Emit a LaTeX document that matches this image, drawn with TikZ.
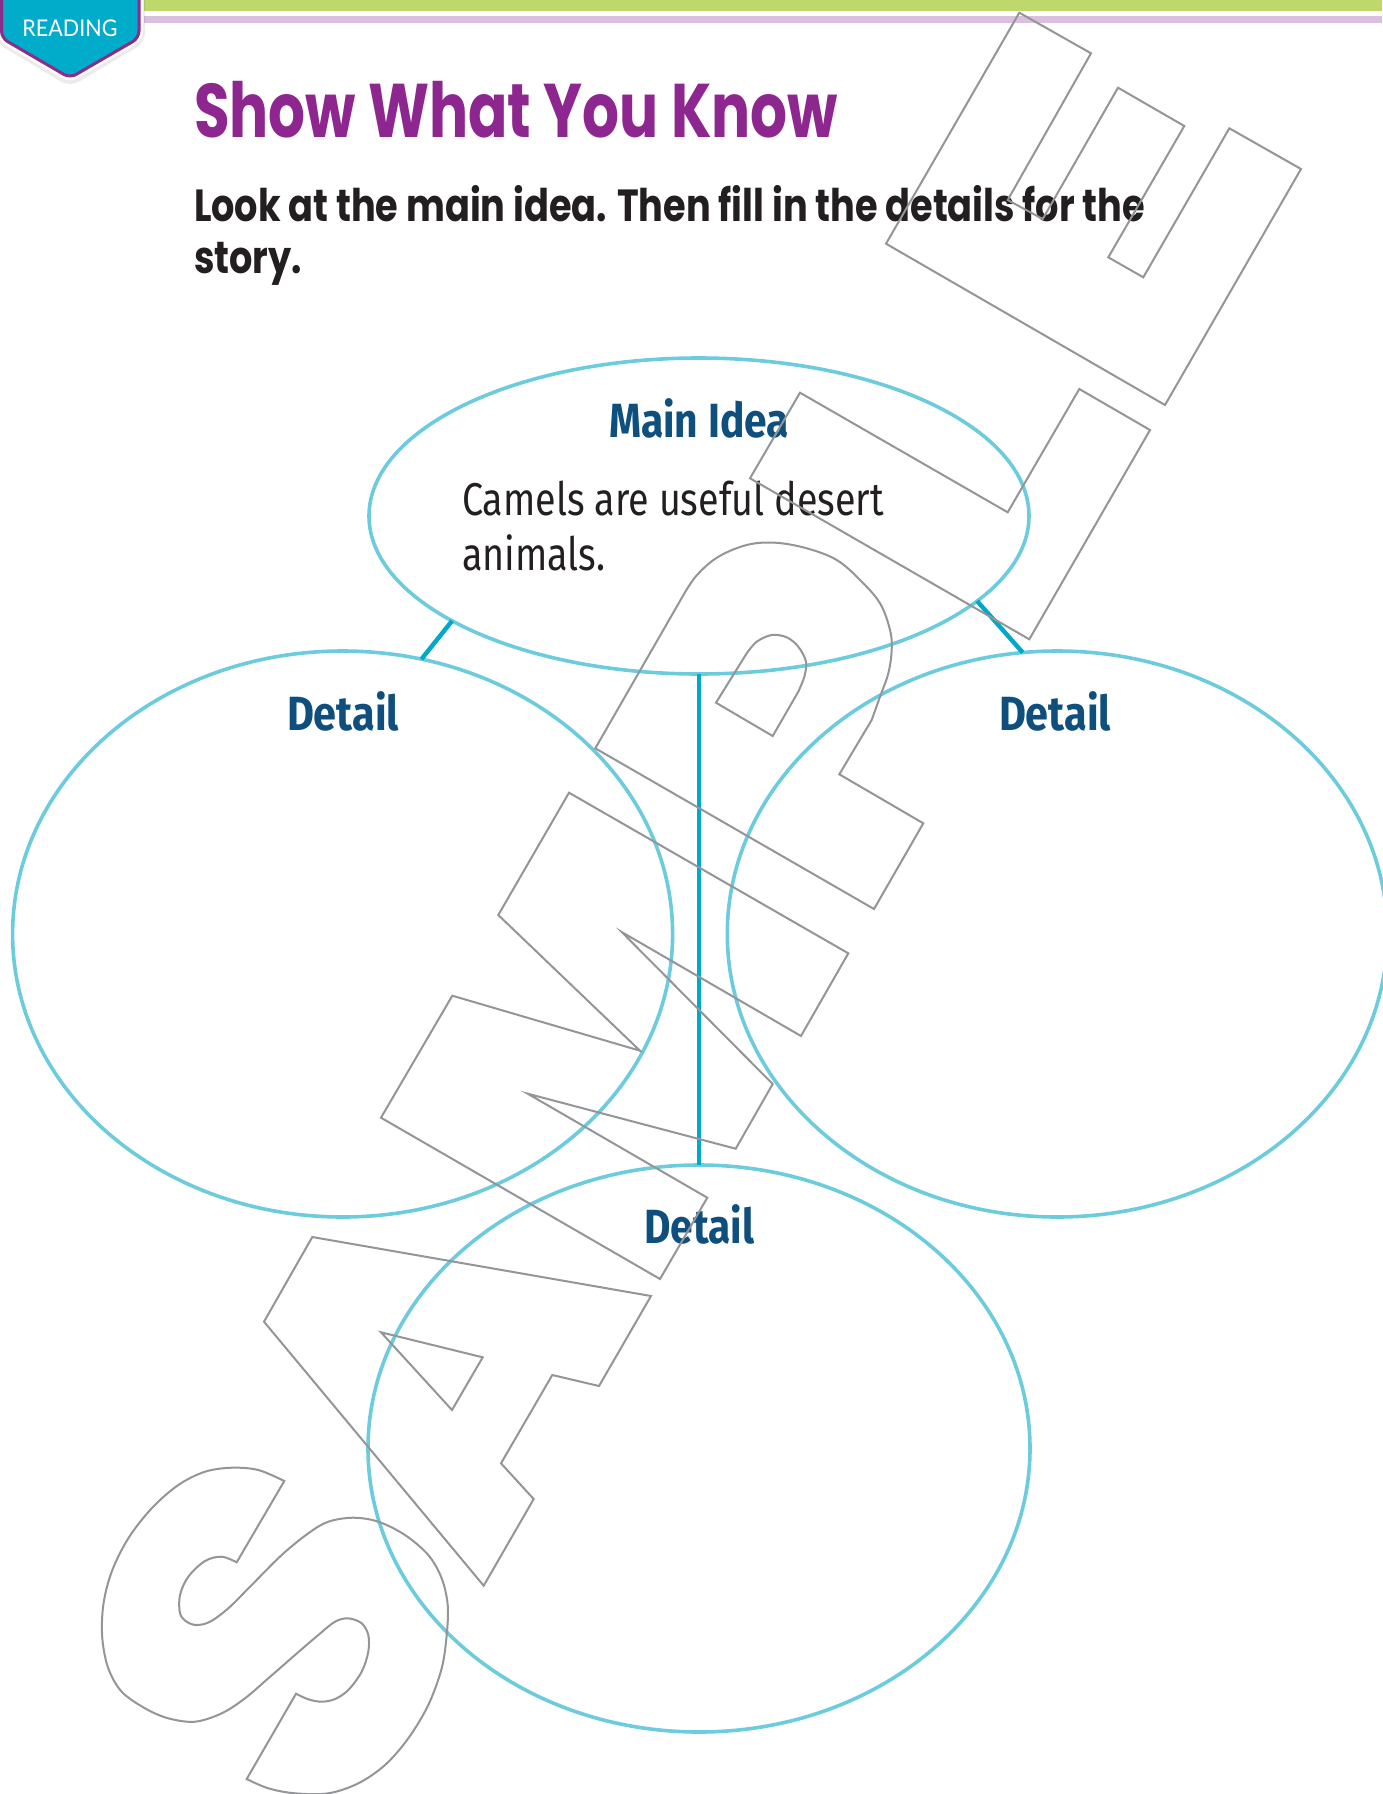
\documentclass[tikz,border=0pt]{standalone}
\usepackage{fontspec}
\usepackage{graphicx}
\usetikzlibrary{shapes.geometric}
\setmainfont{Fira Sans}
\newfontfamily\titlefont{Poppins}
\newfontfamily\labfont{Fira Sans}
\newfontfamily\bodyfont{Fira Sans}
\newfontfamily\badgefont{Lato}
\definecolor{titlepurple}{RGB}{142,38,143}
\definecolor{labblue}{RGB}{14,79,126}
\definecolor{bodyblack}{RGB}{35,31,32}
\definecolor{bubbleline}{RGB}{108,204,222}
\definecolor{linkcyan}{RGB}{0,169,200}
\definecolor{wmgray}{RGB}{147,149,152}
\definecolor{bargreen}{RGB}{190,216,108}
\definecolor{barlilac}{RGB}{217,192,222}
\definecolor{badgecyan}{RGB}{0,172,202}
\definecolor{badgepurple}{RGB}{139,44,140}
\begin{document}
\begin{tikzpicture}[x=1pt,y=-1pt,
  bubble/.style={ellipse, draw=bubbleline, line width=3.6pt, inner sep=0pt, outer sep=0pt},
  link/.style={draw=linkcyan, line width=4.4pt},
  wm/.style={draw=wmgray, line width=2pt, line join=miter},
  txt/.style={inner sep=0pt, outer sep=0pt}]
\useasboundingbox[fill=white] (0,0) rectangle (1382,1794);
% top bars
\fill[bargreen] (144,0) rectangle (1382,10.7);
\fill[barlilac] (144,16) rectangle (1382,22.7);
% badge
\draw[line width=12pt, draw=black, opacity=0.08, rounded corners=7pt] (1.5,-20) -- (139,-20) -- (139,39) -- (70,80) -- (1.5,39) -- cycle;
\draw[line width=8pt, draw=white, rounded corners=7pt] (1.5,-20) -- (139,-20) -- (139,38) -- (70,78) -- (1.5,38) -- cycle;
\draw[line width=3pt, draw=badgepurple, fill=badgecyan, rounded corners=7pt] (1.5,-20) -- (139,-20) -- (139,38) -- (70,78) -- (1.5,38) -- cycle;
\node[txt, anchor=base, text=white, font=\badgefont\fontsize{23}{26}\selectfont] (badge) at (70,36) {\resizebox{95pt}{\height}{READING}};
% title and instructions
\node[txt, anchor=base west, text=titlepurple, font=\titlefont\bfseries\fontsize{76}{80}\selectfont] (title) at (194,137) {\resizebox{644pt}{\height}{Show What You Know}};
\node[txt, anchor=base west, text=bodyblack, font=\titlefont\bfseries\fontsize{45}{51.7}\selectfont] (instr) at (194,221.7) {\resizebox{951pt}{\height}{\begin{tabular}[t]{@{}l@{}}Look at the main idea. Then fill in the details for the\\story.\end{tabular}}};
% bubbles
\node[bubble, minimum width=660pt, minimum height=316pt] (main) at (699,516) {};
\node[bubble, minimum width=660pt, minimum height=566pt] (left) at (342.6,934) {};
\node[bubble, minimum width=660pt, minimum height=566pt] (right) at (1057.3,934) {};
\node[bubble, minimum width=662pt, minimum height=567pt] (bottom) at (699,1448.5) {};
% connectors
\draw[link] (main.203.4) -- (left.74);
\draw[link] (main.-17.3) -- (right.97);
\draw[link] (main.south) -- (bottom.north);
% labels
\node[txt, anchor=base, text=labblue, font=\labfont\bfseries\fontsize{48}{52}\selectfont] (mainlab) at (699,437) {\resizebox{180pt}{\height}{Main Idea}};
\node[txt, anchor=base west, text=bodyblack, font=\bodyfont\fontsize{46}{55}\selectfont] (maintext) at (462,515) {\resizebox{422pt}{\height}{\begin{tabular}[t]{@{}l@{}}Camels are useful desert\\animals.\end{tabular}}};
\node[txt, anchor=base, text=labblue, font=\labfont\bfseries\fontsize{48}{52}\selectfont] (leftlab) at (343,730) {\resizebox{112pt}{\height}{Detail}};
\node[txt, anchor=base, text=labblue, font=\labfont\bfseries\fontsize{48}{52}\selectfont] (rightlab) at (1055,730) {\resizebox{112pt}{\height}{Detail}};
\node[txt, anchor=base, text=labblue, font=\labfont\bfseries\fontsize{48}{52}\selectfont] (bottomlab) at (699.5,1243) {\resizebox{110pt}{\height}{Detail}};
% SAMPLE watermark
% S
\draw[wm] (284.3,1481) -- (236.7,1562.3) -- plot[smooth,tension=0.55] coordinates {(236.7,1562.3) (221.7,1556.7) (205,1561) (188.3,1576.7) (180,1595) (180,1613.3) (186.7,1621.7) (196.7,1625) (210,1621.7) (228.3,1608.3) (251.7,1585) (281.7,1555) (308.3,1533.3) (328.3,1521.7) (353.3,1517.7) (378.3,1521.7) (405,1535) (428.3,1555) (441.7,1578.3) (447.7,1605) (446.7,1635) (441.7,1668.3) (428.3,1705) (408.3,1738.3) (385,1765) (358.3,1783.3) (328.3,1793.3) (295,1793.3) (268.3,1788.3) (246.7,1779)} -- (296,1693.7) -- plot[smooth,tension=0.55] coordinates {(296,1693.7) (308.3,1699.3) (321.7,1701.7) (335,1699) (348.3,1690) (361.7,1671.7) (368.3,1651.7) (368.3,1635) (361.7,1623.3) (348.3,1618.3) (335,1621.7) (318.3,1635) (295,1655) (268.3,1678.3) (245,1698.3) (221.7,1713.3) (195,1721.7) (168.3,1718.3) (145,1708.3) (121.7,1691.7) (108.3,1668.3) (102.3,1638.3) (103.3,1605) (111.7,1571.7) (128.3,1538.3) (151.7,1508.3) (178.3,1485) (205,1471.7) (231.7,1467.7) (258.3,1470) (284.3,1481)} -- cycle;
% A
\draw[wm] (312.3,1237) -- (651,1296) -- (599,1386) -- (552.3,1375) -- (501,1463.3) -- (533.7,1499) -- (483.7,1585.7) -- (264,1321.7) -- cycle;
\draw[wm] (381,1332.3) -- (482.7,1357.3) -- (452,1410) -- cycle;
% M
\draw[wm] (569,792.7) -- (848.3,953.3) -- (801,1036) -- (621.7,932) -- (772.7,1084) -- (735.7,1148.7) -- (527.7,1093.7) -- (707.3,1197.7) -- (660,1279) -- (381,1117.7) -- (452.3,995.7) -- (640,1050.7) -- (498.3,915) -- cycle;
% P
\draw[wm] (595.3,748.3) -- (684,594) -- plot[smooth,tension=0.6] coordinates {(684,594) (697,575) (718,557) (746.7,545) (775,542.7) (806.7,548.3) (836.7,560) (860,580) (880,603.3) (890,630) (891.7,650) (888.3,673.3) (880,696.7) (871.7,720)} -- (839.3,774.3) -- (923.3,823.3) -- (874,909) -- cycle;
\draw[wm] (716,702.7) -- (746.7,653.3) -- plot[smooth,tension=0.55] coordinates {(746.7,653.3) (756.7,641.7) (771.7,635) (786.7,637.3) (798.3,646.7) (806,661.7) (804.3,676.7) (798.3,691.7)} -- (772.7,736) -- cycle;
% L
\draw[wm] (800,392.7) -- (1007.7,512.3) -- (1079.3,389) -- (1150,430) -- (1029.3,639.3) -- (750,478.3) -- cycle;
% E
\draw[wm] (1019.3,12.7) -- (1091,53.3) -- (1007.7,200) -- (1042.7,219) -- (1118,87.7) -- (1184.3,126) -- (1108.3,257.3) -- (1143.3,277.3) -- (1229.3,128.3) -- (1301,169) -- (1165,405) -- (886,243.7) -- cycle;
\end{tikzpicture}
\end{document}
